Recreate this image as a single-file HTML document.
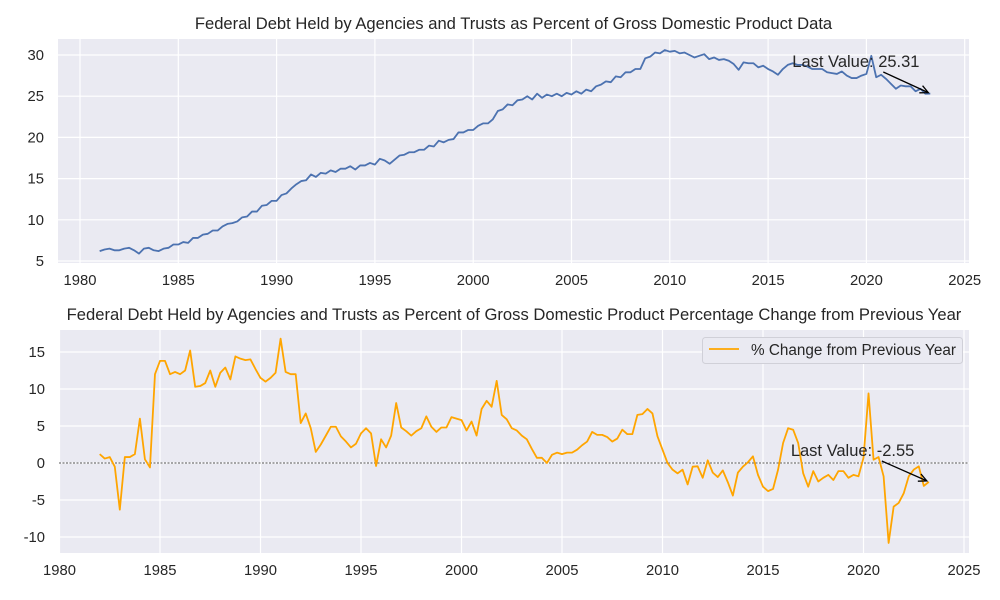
<!DOCTYPE html>
<html><head><meta charset="utf-8"><style>
body{margin:0;background:#fff;}
svg{display:block;font-family:"Liberation Sans","DejaVu Sans",sans-serif;}
</style></head><body>
<svg id="chart" width="1000" height="600" viewBox="0 0 1000 600"></svg>
<script>
const topValues=[6.2,6.4,6.5,6.3, 6.3,6.5,6.6,6.3, 5.9,6.5,6.6,6.3, 6.2,6.5,6.6,7.0, 7.0,7.3,7.2,7.8, 7.8,8.2,8.3,8.7, 8.7,9.2,9.5,9.6, 9.8,10.3,10.4,11.0, 11.0,11.7,11.8,12.3, 12.3,13.0,13.2,13.8, 14.3,14.7,14.8,15.5, 15.2,15.7,15.6,16.0, 15.8,16.2,16.2,16.5, 16.1,16.6,16.6,16.9, 16.7,17.4,17.2,16.8, 17.3,17.8,17.9,18.2, 18.2,18.5,18.5,19.0, 18.9,19.6,19.4,19.7, 19.8,20.6,20.6,20.9, 20.9,21.4,21.7,21.7, 22.2,23.2,23.4,24.0, 23.9,24.5,24.6,25.0, 24.6,25.3,24.8,25.2, 25.0,25.3,25.0,25.4, 25.2,25.6,25.3,25.8, 25.6,26.2,26.4,26.8, 26.7,27.4,27.3,27.9, 27.9,28.3,28.3,29.6, 29.8,30.3,30.2,30.6, 30.4,30.5,30.2,30.3, 30.0,29.7,29.9,30.1, 29.5,29.7,29.4,29.5, 29.3,28.9,28.2,29.1, 29.0,29.0,28.5,28.7, 28.3,28.0,27.6,28.3, 28.8,29.0,28.8,28.8, 28.6,28.3,28.3,28.3, 27.9,27.8,27.7,28.0, 27.5,27.2,27.2,27.5, 27.7,29.9,27.3,27.6, 27.1,26.5,25.9,26.3, 26.2,26.2,25.6,25.9, 25.3,25.31];
const topStartYear=1981;
const changeValues=[1.2,0.6,0.8,-0.5, -6.3,0.8,0.8,1.2, 6.0,0.5,-0.6,12.0, 13.8,13.8,12.0,12.3, 12.0,12.5,15.2,10.3, 10.4,10.8,12.5,10.3, 12.2,12.9,11.3,14.4, 14.1,13.9,14.0,12.7, 11.5,11.0,11.5,12.2, 16.8,12.3,12.0,12.0, 5.4,6.7,4.7,1.5, 2.5,3.7,4.9,4.9, 3.6,2.9,2.1,2.6, 4.0,4.7,4.0,-0.4, 3.2,2.1,3.7,8.1, 4.8,4.3,3.7,4.3, 4.7,6.3,4.9,4.2, 4.8,4.8,6.2,6.0, 5.8,4.4,5.6,3.7, 7.3,8.4,7.6,11.1, 6.5,5.9,4.7,4.4, 3.7,3.2,1.9,0.7, 0.7,0.0,1.1,1.4, 1.2,1.4,1.4,1.8, 2.4,2.9,4.2,3.8, 3.8,3.5,2.9,3.3, 4.5,3.9,3.9,6.5, 6.6,7.3,6.7,3.6, 1.8,0.0,-0.9,-1.4, -0.9,-2.9,-0.5,-0.45, -2.0,0.36,-1.3,-1.9, -1.0,-2.6,-4.4,-1.3, -0.5,0.1,0.9,-1.6, -3.2,-3.8,-3.5,-0.9, 2.7,4.7,4.5,2.7, -1.4,-3.2,-1.1,-2.5, -2.0,-1.6,-2.3,-1.1, -1.1,-2.0,-1.6,-1.8, 0.7,9.4,0.45,0.8, -1.8,-10.8,-5.9,-5.4, -4.1,-1.8,-0.9,-0.45, -3.1,-2.55];
const changeStartYear=1982;
const xTickLabels=[1980,1985,1990,1995,2000,2005,2010,2015,2020,2025];
const topYTicks=[5,10,15,20,25,30];
const bottomYTicks=[-10,-5,0,5,10,15];

const NS="http://www.w3.org/2000/svg";
const svg=document.getElementById('chart');
function mk(tag,attrs,parent){const e=document.createElementNS(NS,tag);for(const k in attrs)e.setAttribute(k,attrs[k]);(parent||svg).appendChild(e);return e;}

function panel(cfg){
  const g=mk('g',{});
  
  
  const bg=mk('rect',{x:cfg.l,y:cfg.t,width:cfg.r-cfg.l,height:cfg.b-cfg.t,fill:'#eaeaf2'},g);
  
  
  const xs=y=>cfg.x0+(y-1980)*cfg.xs;
  const ys=v=>cfg.y0-v*cfg.ys;
  xTickLabels.forEach(t=>{
    const x=xs(t);
    if(x>=cfg.l&&x<=cfg.r){const ln=mk('line',{x1:x,x2:x,y1:cfg.t,y2:cfg.b,stroke:'#fff','stroke-width':1.2},g);
      
      }
    const tx=mk('text',{x:x,y:cfg.b+22,'text-anchor':'middle','font-size':14.8,fill:'#262626'},g);
    tx.textContent=t;
    
    
  });
  cfg.yt.forEach(t=>{
    const y=ys(t);
    const ln=mk('line',{x1:cfg.l,x2:cfg.r,y1:y,y2:y,stroke:'#fff','stroke-width':1.2},g);
    
    
    const tx=mk('text',{x:cfg.l-14,y:y+5,'text-anchor':'end','font-size':14.8,fill:'#262626'},g);
    tx.textContent=t;
    
    
  });
  const title=mk('text',{x:(cfg.l+cfg.r)/2,y:cfg.t-10,'text-anchor':'middle','font-size':16.6,fill:'#262626'},g);
  title.textContent=cfg.title;
  
  
  if(cfg.zero){
    const z=mk('line',{x1:cfg.l,x2:cfg.r,y1:ys(0),y2:ys(0),stroke:'#222','stroke-width':0.8,'stroke-dasharray':'2,1.5'},g);
    
    
  }
  const pts=cfg.data.map((v,i)=>xs(cfg.start+i/4).toFixed(2)+','+ys(v).toFixed(2)).join(' ');
  const pl=mk('polyline',{points:pts,fill:'none',stroke:cfg.color,'stroke-width':1.8,'stroke-linejoin':'round'},g);
  
  
  const n=cfg.data.length-1, lx=xs(cfg.start+n/4), ly=ys(cfg.data[n]);
  const ax=lx-47, ay=cfg.annY;
  const an=mk('text',{x:ax-91,y:ay-5,'font-size':16.5,fill:'#262626'},g);
  an.textContent='Last Value: '+cfg.data[n].toFixed(2);
  
  
  const ar=mk('line',{x1:ax,y1:ay,x2:lx-2,y2:ly-1,stroke:'#000','stroke-width':1.3},g);
  
  
  const ang=Math.atan2(ly-1-ay,lx-2-ax), hx=lx-2, hy=ly-1;
  const head=mk('polyline',{points:`${hx-9*Math.cos(ang-0.45)},${hy-9*Math.sin(ang-0.45)} ${hx},${hy} ${hx-9*Math.cos(ang+0.45)},${hy-9*Math.sin(ang+0.45)}`,fill:'none',stroke:'#000','stroke-width':1.3},g);
  
  
  return g;
}
panel({name:'debt-level-chart',l:58,r:969,t:39,b:263,x0:80,xs:19.66,y0:302.2,ys:8.24,yt:topYTicks,data:topValues,start:topStartYear,color:'#4c72b0',title:'Federal Debt Held by Agencies and Trusts as Percent of Gross Domestic Product Data',annY:72});
panel({name:'pct-change-chart',l:59,r:969,t:330,b:553,x0:59.5,xs:20.1,y0:463,ys:7.4,yt:bottomYTicks,data:changeValues,start:changeStartYear,color:'#ffa500',title:'Federal Debt Held by Agencies and Trusts as Percent of Gross Domestic Product Percentage Change from Previous Year',annY:461,zero:true});
const lg=mk('g',{});


const lr=mk('rect',{x:702.5,y:337.5,width:260,height:26,rx:3,fill:'#eaeaf2',stroke:'#d0d0d8'},lg);


const ll=mk('line',{x1:709,x2:739,y1:349,y2:349,stroke:'#ffa500','stroke-width':1.8},lg);


const lt=mk('text',{x:751,y:355,'font-size':15.3,fill:'#262626'},lg);
lt.textContent='% Change from Previous Year';


</script>
</body></html>
